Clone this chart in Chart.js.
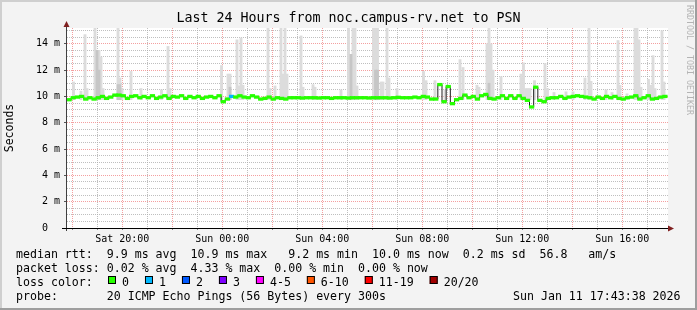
<!DOCTYPE html>
<html>
<head>
<meta charset="utf-8">
<script src="https://cdn.jsdelivr.net/npm/chart.js@4.4.1/dist/chart.umd.min.js"></script>
<style>
  html, body { margin: 0; padding: 0; background: #f3f3f3; }
  #wrap { width: 697px; height: 310px; }
</style>
</head>
<body>
<div id="wrap"><canvas id="rrd" width="697" height="310"></canvas></div>
<script>
// time axis in hours counted from Sat 00:00
const startHour = 17.79;
const endHour = 41.83;
const slotHours = 1 / 6;

// median rtt per 10 minute slot (ms)
const medianMs = [
  9.75, 9.9, 9.95, 10.0, 9.8, 9.9, 9.8, 9.9, 10.0, 9.85, 9.95, 10.1,
  10.1, 10.05, 9.85, 10.0, 10.05, 9.9, 10.0, 9.9, 10.05, 9.85, 9.95, 10.05,
  9.85, 10.0, 9.95, 10.05, 9.85, 10.0, 9.9, 10.0, 9.85, 9.95, 10.0, 9.9,
  10.05, 9.6, 9.8, 10.0, 9.95, 10.05, 9.95, 9.9, 10.05, 9.95, 9.8, 9.85,
  9.95, 9.8, 9.9, 9.85, 9.8, 9.9, 9.9, 9.9, 9.88, 9.9, 9.9, 9.9,
  9.88, 9.9, 9.9, 9.85, 9.9, 9.9, 9.9, 9.88, 9.9, 9.9, 9.9, 9.9,
  9.88, 9.9, 9.9, 9.9, 9.9, 9.88, 9.9, 9.93, 9.9, 9.9, 9.9, 9.95,
  9.9, 10.0, 9.95, 9.8, 9.8, 10.9, 9.6, 10.75, 9.45, 9.75, 9.85, 10.1,
  9.9, 10.0, 9.8, 10.05, 10.15, 9.85, 9.8, 9.9, 10.05, 9.85, 10.05, 9.85,
  10.05, 9.85, 9.7, 9.2, 10.7, 9.7, 9.6, 9.85, 9.9, 9.9, 10.0, 9.85,
  9.95, 10.0, 10.05, 10.0, 9.95, 9.9, 9.8, 9.95, 9.85, 10.0, 9.9, 10.0,
  9.85, 9.8, 9.9, 9.95, 10.05, 9.8, 9.9, 10.05, 9.8, 9.85, 9.95, 10.0
];

// slots with lost pings
const lossSlot = [39];
const lossPings = [1];

// smoke: light range of the pings per interval
const smokeFloor = 9.75;
const smokeHour = [
  18.05, 18.35, 18.51, 18.59, 18.91, 18.99, 19.07, 19.15, 19.23, 19.83, 19.91, 19.99,
  20.35, 20.75, 21.57, 21.83, 21.91, 23.97, 24.23, 24.31, 24.59, 24.67, 24.75, 24.83,
  25.83, 25.91, 26.11, 26.35, 26.43, 26.51, 26.59, 27.15, 27.23, 27.63, 27.71, 28.75,
  29.05, 29.15, 29.23, 29.31, 29.39, 30.05, 30.13, 30.21, 30.35, 30.43, 30.59, 30.67,
  30.99, 32.05, 32.15, 32.51, 32.91, 33.51, 33.63, 34.19, 34.27, 34.59, 34.67, 34.75,
  34.83, 35.15, 35.95, 36.05, 36.15, 36.23, 36.31, 36.49, 36.91, 37.01, 37.27, 37.75,
  38.03, 38.51, 38.67, 38.75, 39.35, 39.59, 39.83, 39.91, 40.19, 40.51, 40.59, 40.67,
  40.75, 41.05, 41.15, 41.23, 41.31, 41.59, 41.67
];
const smokeTop = [
  11.1, 10.4, 14.7, 10.6, 15.6, 13.5, 13.5, 13.0, 10.6, 15.6, 11.4, 10.6,
  11.9, 10.6, 10.5, 13.8, 10.6, 12.35, 11.7, 11.7, 14.3, 10.8, 14.45, 10.85,
  15.6, 10.6, 10.8, 15.6, 11.7, 15.6, 11.7, 14.6, 10.7, 10.9, 10.7, 10.5,
  15.6, 13.2, 15.6, 15.6, 10.8, 15.6, 15.6, 15.6, 11.1, 11.1, 15.6, 11.4,
  10.6, 11.9, 11.2, 11.2, 10.5, 12.8, 12.2, 10.85, 10.7, 14.0, 15.6, 14.0,
  12.0, 11.5, 11.7, 12.55, 10.6, 10.6, 10.6, 11.2, 12.5, 10.6, 10.3, 10.35,
  10.35, 11.4, 15.6, 11.15, 10.5, 10.3, 14.25, 10.85, 10.2, 15.6, 15.6, 14.3,
  10.7, 11.3, 10.85, 13.1, 10.6, 15.0, 11.1
];
// denser core of the smoke
const coreHour = [18.99, 19.07, 19.83, 19.91, 24.31, 29.15, 30.13, 30.21, 34.67];
const coreTop = [13.5, 12.0, 10.9, 10.9, 10.7, 13.2, 12.0, 12.0, 11.0];

const xTickHours = [20, 24, 28, 32, 36, 40];
const xTickLabels = ['Sat 20:00', 'Sun 00:00', 'Sun 04:00', 'Sun 08:00', 'Sun 12:00', 'Sun 16:00'];
const yTickValues = [0, 2, 4, 6, 8, 10, 12, 14];
const yTickLabels = ['0  ', '2 m', '4 m', '6 m', '8 m', '10 m', '12 m', '14 m'];

const lossColors = ['#26ff00', '#00b8ff', '#0059ff', '#7e00ff', '#ff00ff', '#ff5500', '#ff0000', '#a10000'];
const lossLabels = ['0', '1', '2', '3', '4-5', '6-10', '11-19', '20/20'];

const titleText = 'Last 24 Hours from noc.campus-rv.net to PSN';
const legendLines = [
  'median rtt:  9.9 ms avg  10.9 ms max   9.2 ms min  10.0 ms now  0.2 ms sd  56.8   am/s',
  'packet loss: 0.02 % avg  4.33 % max  0.00 % min  0.00 % now',
  'loss color:',
  'probe:       20 ICMP Echo Pings (56 Bytes) every 300s'
];
const stampText = 'Sun Jan 11 17:43:38 2026';

const mono = '"DejaVu Sans Mono", monospace';
const slotX = medianMs.map((v, i) => startHour + (i + 0.5) * slotHours);
const slotLoss = medianMs.map((v, i) => {
  const k = lossSlot.indexOf(i);
  return k < 0 ? 0 : lossPings[k];
});

const decor = {
  id: 'decor',
  beforeDraw(chart) {
    const { ctx, width, height, chartArea: a } = chart;
    ctx.save();
    ctx.fillStyle = '#f3f3f3';
    ctx.fillRect(0, 0, width, height);
    ctx.fillStyle = '#cfcfcf';
    ctx.fillRect(0, 0, width, 2);
    ctx.fillRect(0, 0, 2, height);
    ctx.fillStyle = '#9e9e9e';
    ctx.fillRect(0, height - 2, width, 2);
    ctx.fillRect(width - 2, 0, 2, height);
    ctx.fillStyle = '#ffffff';
    ctx.fillRect(a.left, a.top, a.right - a.left, a.bottom - a.top);
    ctx.restore();
  },
  afterDraw(chart) {
    const { ctx, chartArea: a } = chart;
    ctx.save();
    // axes and arrows
    ctx.strokeStyle = '#404040';
    ctx.lineWidth = 1;
    ctx.beginPath();
    ctx.moveTo(a.left - 0.5, a.bottom + 3);
    ctx.lineTo(a.left - 0.5, a.top - 5);
    ctx.stroke();
    ctx.strokeStyle = '#000';
    ctx.beginPath();
    ctx.moveTo(a.left - 5, a.bottom + 0.5);
    ctx.lineTo(a.right + 2, a.bottom + 0.5);
    ctx.stroke();
    ctx.fillStyle = '#802020';
    ctx.beginPath();
    ctx.moveTo(a.left - 3.5, a.top - 1);
    ctx.lineTo(a.left + 2.5, a.top - 1);
    ctx.lineTo(a.left - 0.5, a.top - 7);
    ctx.fill();
    ctx.beginPath();
    ctx.moveTo(a.right, a.bottom - 2.5);
    ctx.lineTo(a.right, a.bottom + 3.5);
    ctx.lineTo(a.right + 6, a.bottom + 0.5);
    ctx.fill();

    // title
    ctx.fillStyle = '#000';
    ctx.textBaseline = 'middle';
    ctx.textAlign = 'center';
    ctx.font = '13.3px ' + mono;
    ctx.fillText(titleText, 348.5, 19);

    // vertical axis label
    ctx.save();
    ctx.translate(10, 128);
    ctx.rotate(-Math.PI / 2);
    ctx.font = '11.5px ' + mono;
    ctx.fillText('Seconds', 0, 0);
    ctx.restore();

    // watermark
    ctx.save();
    ctx.translate(689, 60);
    ctx.rotate(Math.PI / 2);
    ctx.fillStyle = '#b4b4b4';
    ctx.font = '8.3px ' + mono;
    ctx.fillText('RRDTOOL / TOBI OETIKER', 0, 0);
    ctx.restore();

    // legend rows
    ctx.textAlign = 'left';
    ctx.font = '11.6px ' + mono;
    const rowY = [255, 268.5, 282.5, 296.5];
    legendLines.forEach((s, i) => ctx.fillText(s, 16, rowY[i]));
    // loss colour swatches, each followed by its label
    let bx = 108;
    lossLabels.forEach((s, i) => {
      ctx.fillStyle = lossColors[i];
      ctx.fillRect(bx, 276, 8, 8);
      ctx.strokeStyle = '#000';
      ctx.strokeRect(bx + 0.5, 276.5, 7, 7);
      ctx.fillStyle = '#000';
      ctx.fillText(s, bx + 14, rowY[2]);
      bx += 14 + ctx.measureText(s).width + 16;
    });
    ctx.fillText(stampText, 513, rowY[3]);
    ctx.restore();
  }
};

const minorGrid = 'rgba(170,170,170,0.75)';
const majorGrid = 'rgba(240,120,120,0.7)';

new Chart(document.getElementById('rrd'), {
  type: 'bar',
  data: {
    datasets: [
      {
        type: 'bar',
        label: 'loss color',
        data: slotX.map((x, i) => ({ x: x, y: [medianMs[i] - 0.1, medianMs[i] + 0.1] })),
        backgroundColor: slotLoss.map(n => lossColors[Math.min(n, 7)]),
        borderWidth: 0,
        barThickness: 4.6,
        grouped: false,
        order: 1
      },
      {
        type: 'line',
        label: 'median',
        data: slotX.map((x, i) => ({ x: x, y: medianMs[i] })),
        borderColor: '#202020',
        borderWidth: 1,
        pointRadius: 0,
        stepped: 'middle',
        fill: false,
        order: 2
      },
      {
        type: 'bar',
        label: 'smoke core',
        data: coreHour.map((x, i) => ({ x: x, y: [smokeFloor, coreTop[i]] })),
        backgroundColor: '#c6c6c6',
        borderWidth: 0,
        barThickness: 2.2,
        grouped: false,
        order: 3
      },
      {
        type: 'bar',
        label: 'smoke',
        data: smokeHour.map((x, i) => ({ x: x, y: [smokeFloor, smokeTop[i]] })),
        backgroundColor: '#dcdcdc',
        borderWidth: 0,
        barThickness: 2.2,
        grouped: false,
        order: 4
      }
    ]
  },
  options: {
    responsive: false,
    animation: false,
    events: [],
    layout: { padding: { left: 0, top: 28, right: 29, bottom: 62 } },
    plugins: { legend: { display: false }, tooltip: { enabled: false }, title: { display: false } },
    scales: {
      x: {
        type: 'linear',
        min: startHour,
        max: endHour,
        offset: false,
        afterFit: s => { s.height = 20; },
        grid: {
          offset: false,
          color: c => (c.tick && c.tick.value % 2 === 0 ? majorGrid : minorGrid),
          tickColor: '#888',
          tickLength: 2,
          lineWidth: 1
        },
        border: { display: false, dash: [1, 1] },
        ticks: {
          stepSize: 1,
          includeBounds: false,
          autoSkip: false,
          maxRotation: 0,
          padding: 3,
          color: '#000',
          font: { family: mono, size: 10 },
          callback: v => {
            const k = xTickHours.indexOf(v);
            return k < 0 ? '' : xTickLabels[k];
          }
        }
      },
      y: {
        type: 'linear',
        min: 0,
        max: 15.2,
        afterFit: s => { s.width = 67; },
        grid: {
          color: c => (c.tick && c.tick.value % 2 === 0 ? majorGrid : minorGrid),
          tickColor: c => (c.tick && c.tick.value % 2 === 0 ? '#555' : 'rgba(0,0,0,0)'),
          tickLength: 3,
          lineWidth: 1
        },
        border: { display: false, dash: [1, 1] },
        ticks: {
          stepSize: 0.5,
          includeBounds: false,
          autoSkip: false,
          padding: 4,
          color: '#000',
          font: { family: mono, size: 10 },
          callback: v => {
            const k = yTickValues.indexOf(v);
            return k < 0 ? '' : yTickLabels[k];
          }
        }
      }
    }
  },
  plugins: [decor]
});
</script>
</body>
</html>
